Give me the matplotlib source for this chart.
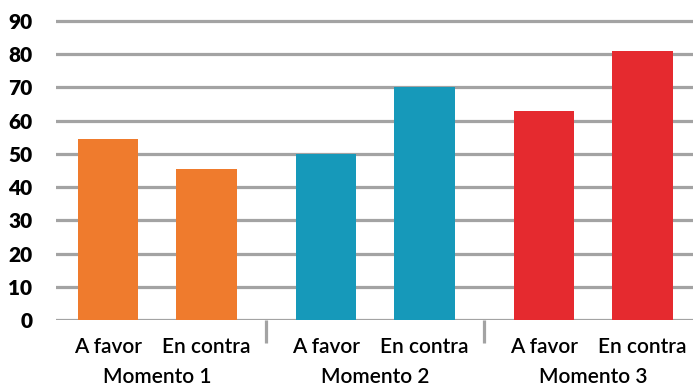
import matplotlib
matplotlib.use("Agg")
import matplotlib.pyplot as plt
import numpy as np

# Data
moments = ["Momento 1", "Momento 2", "Momento 3"]
positions = ["A favor", "En contra"]
a_favor = [54.5, 50, 63]
en_contra = [45.5, 70, 81]
colors = ["#EF7B2D", "#1699BA", "#E52A2F"]
y_ticks = list(range(0, 100, 10))

plt.rcParams["font.family"] = ["Lato", "DejaVu Sans"]

W, H = 693, 387
fig = plt.figure(figsize=(W / 100, H / 100), dpi=100)

# axes placed in pixel terms
left_px, right_px = 56, 693
bottom_px = 320
ymax = 92
unit_px = 299 / 90
top_px = bottom_px - ymax * unit_px
ax = fig.add_axes([left_px / W, (H - bottom_px) / H,
                   (right_px - left_px) / W, (bottom_px - top_px) / H])

group_step = 2.213
offset = 0.5
bar_w = 0.61
centers = np.arange(len(moments)) * group_step

for i, c in enumerate(centers):
    ax.bar(c - offset, a_favor[i], width=bar_w, color=colors[i], zorder=3)
    ax.bar(c + offset, en_contra[i], width=bar_w, color=colors[i], zorder=3)

ax.set_ylim(0, ymax)
ax.set_xlim(centers[0] - offset - 0.528, centers[0] - offset - 0.528 + (right_px - left_px) / 98.5)

# horizontal gridlines
for t in y_ticks:
    ax.axhline(t, color="#A3A3A3", lw=2.3, zorder=1)

for s in ax.spines.values():
    s.set_visible(False)

ax.set_yticks(y_ticks)
ax.set_yticklabels([str(t) for t in y_ticks], fontsize=15, fontweight="heavy")
ax.tick_params(axis="y", length=0, pad=17)
ax.set_xticks([])

# category labels
lab_kw = dict(ha="center", va="center", fontsize=15, fontweight="semibold",
              transform=ax.transData, clip_on=False)
for i, c in enumerate(centers):
    ax.text(c - offset, -8.2, positions[0], **lab_kw)
    ax.text(c + offset, -8.2, positions[1], **lab_kw)
    ax.text(c, -17.2, moments[i], **lab_kw)

# group separators
for k in range(len(moments) - 1):
    xs = (centers[k] + centers[k + 1]) / 2
    ax.plot([xs, xs], [0, -7], color="#A3A3A3", lw=2.3, clip_on=False,
            solid_capstyle="butt")

fig.savefig("out.png", dpi=100)
